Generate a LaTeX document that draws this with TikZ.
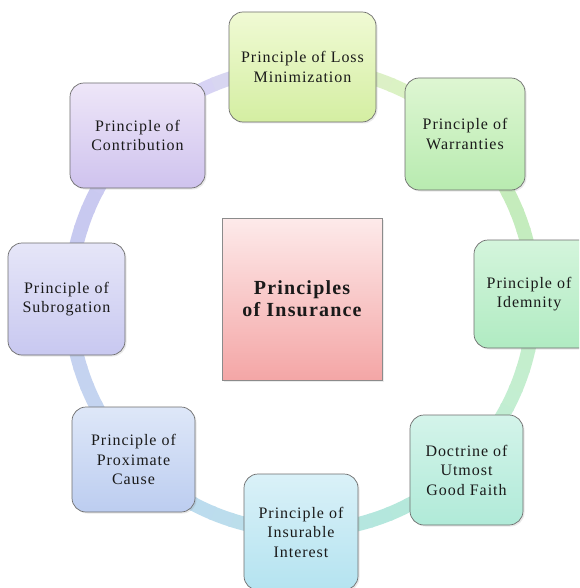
\documentclass[tikz,border=0pt]{standalone}
\usepackage{fontspec}
\setmainfont{Liberation Serif}[LetterSpace=6]
\usetikzlibrary{shadows}
\definecolor{m0}{HTML}{C4EED0}
\definecolor{m1}{HTML}{B4E8DC}
\definecolor{m2}{HTML}{BCDCEE}
\definecolor{m3}{HTML}{C4D4F0}
\definecolor{m4}{HTML}{C8C8F0}
\definecolor{m5}{HTML}{D8D4F4}
\definecolor{m6}{HTML}{DCF2C4}
\definecolor{m7}{HTML}{C4ECBC}
\definecolor{txt}{HTML}{1A1A1A}
\definecolor{edge}{HTML}{6E6E6E}
\definecolor{lossT}{HTML}{F0FAD4}\definecolor{lossB}{HTML}{D4EEA2}
\definecolor{warrT}{HTML}{DEF6D2}\definecolor{warrB}{HTML}{B8EBB0}
\definecolor{idemT}{HTML}{D4F5DC}\definecolor{idemB}{HTML}{B0EBC2}
\definecolor{doctT}{HTML}{D4F4EA}\definecolor{doctB}{HTML}{B0EAD8}
\definecolor{insuT}{HTML}{DAF1F8}\definecolor{insuB}{HTML}{B4E3F0}
\definecolor{proxT}{HTML}{DEE7F8}\definecolor{proxB}{HTML}{BCCDF0}
\definecolor{subrT}{HTML}{E6E6F8}\definecolor{subrB}{HTML}{C8C8F0}
\definecolor{contT}{HTML}{EEE6F8}\definecolor{contB}{HTML}{CFC3EE}
\definecolor{hubT}{HTML}{FDEAEA}\definecolor{hubB}{HTML}{F4A6A6}
\tikzset{
  pbox/.style={draw=edge, line width=0.7pt, rounded corners=14pt, align=center,
    text=txt, inner sep=2pt, font=\fontsize{16}{19.5}\selectfont,
    drop shadow={opacity=0.18, shadow xshift=1.5pt, shadow yshift=-1.5pt}},
  cbox/.style={draw=edge!80, line width=0.6pt, align=center, text=txt,
    font=\fontsize{20}{22}\selectfont\bfseries,
    top color=hubT, bottom color=hubB,
    minimum width=160, minimum height=162,
    drop shadow={opacity=0.15, shadow xshift=1.5pt, shadow yshift=-1.5pt}},
  ringseg/.style={line width=14pt, line cap=butt}
}
\begin{document}
\begin{tikzpicture}[x=1pt,y=-1pt]
\useasboundingbox (0,0) rectangle (579,588);
\clip (0,0) rectangle (579,588);
\fill[white] (0,0) rectangle (579,588);
\node[cbox] (hub) at (302,299) {Principles\\of Insurance};
% ring
\foreach \k/\a/\b in {0/m0/m1,1/m1/m2,2/m2/m3,3/m3/m4,4/m4/m5,5/m5/m6,6/m6/m7,7/m7/m0}{
  \foreach \j in {0,...,8}{
    \pgfmathsetmacro\ang{22.5+45*\k+5*\j}
    \pgfmathtruncatemacro\p{100-\j*100/9-50/9}
    \draw[ringseg, color=\a!\p!\b] ([shift={(\ang:232)}]hub.center) arc[start angle=\ang, delta angle=5.6, radius=232];
  }
}
\node[pbox, minimum width=147, minimum height=110, top color=lossT, bottom color=lossB] (loss) at (302.5,67) {Principle of Loss\\Minimization};
\node[pbox, minimum width=120, minimum height=112, top color=warrT, bottom color=warrB] (warr) at (465,134) {Principle of\\Warranties};
\node[pbox, minimum width=126, minimum height=108, top color=idemT, bottom color=idemB] (idem) at (537,294) {Principle of\hspace*{16pt}\\Idemnity\hspace*{16pt}};
\node[pbox, minimum width=113, minimum height=110, top color=doctT, bottom color=doctB] (doct) at (466.5,470) {Doctrine of\\Utmost\\Good Faith};
\node[pbox, minimum width=114, minimum height=116, top color=insuT, bottom color=insuB] (insu) at (301,532) {Principle of\\Insurable\\Interest};
\node[pbox, minimum width=123, minimum height=105, top color=proxT, bottom color=proxB] (prox) at (133.5,459.5) {Principle of\\Proximate\\Cause};
\node[pbox, minimum width=117, minimum height=112, top color=subrT, bottom color=subrB] (subr) at (66.5,299) {Principle of\\Subrogation};
\node[pbox, minimum width=135, minimum height=105, top color=contT, bottom color=contB] (cont) at (137.5,135.5) {Principle of\\Contribution};
\end{tikzpicture}
\end{document}
